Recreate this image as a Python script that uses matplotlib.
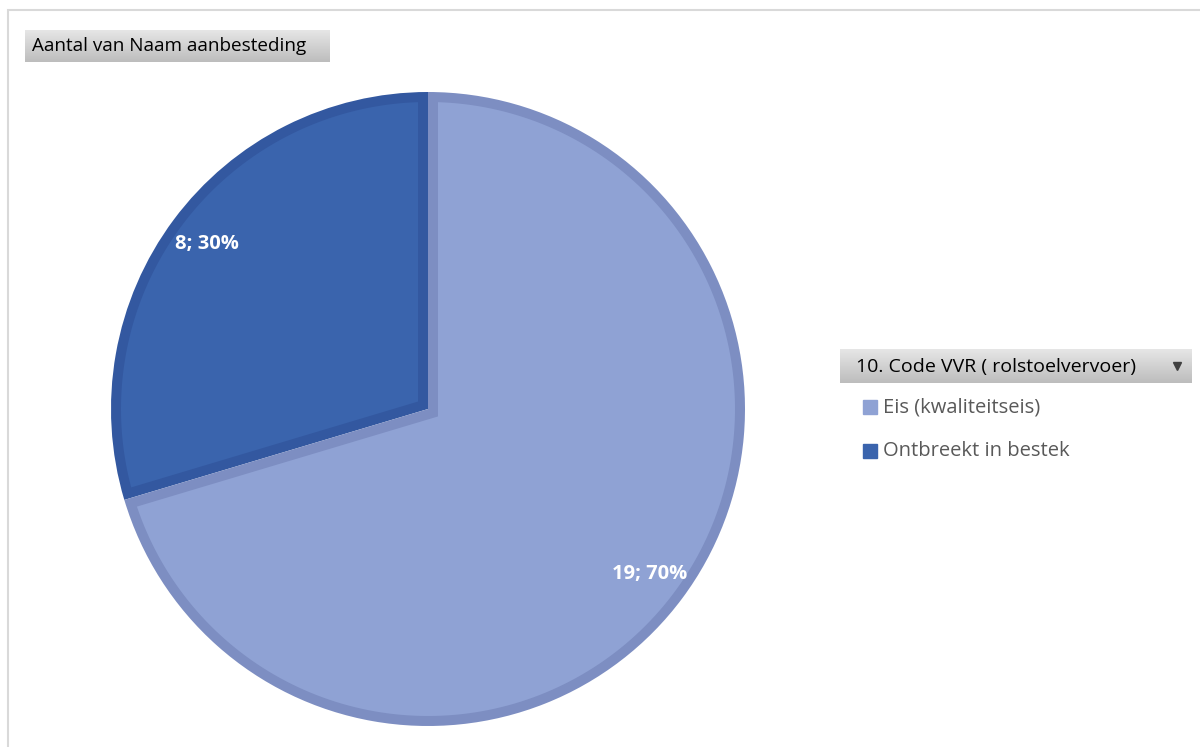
import numpy as np
import matplotlib.pyplot as plt
from matplotlib.patches import Rectangle, Polygon
from matplotlib.colors import LinearSegmentedColormap

categories = ['Ontbreekt in bestek', 'Eis (kwaliteitseis)']
counts = [8, 19]
fill_colors = ['#3A64AD', '#8FA2D4']
edge_colors = ['#3358A0', '#7D8EC2']
legend_order = [1, 0]
title = 'Aantal van Naam aanbesteding'
field = '10. Code VVR ( rolstoelvervoer)'

W, H = 1200, 747
fig = plt.figure(figsize=(W / 100, H / 100), dpi=100)
ax = fig.add_axes([0, 0, 1, 1])
font = 'Open Sans'

# pie in pixel-like coordinates (y measured from the bottom)
cx, cy, r = 428, H - 409, 317
border = 10
wedges, _ = ax.pie(counts, colors=edge_colors, startangle=90, counterclock=True,
                   center=(cx, cy), radius=r, frame=True,
                   wedgeprops=dict(linewidth=0))

# inner fill of each wedge, inset by the border width
for w, fc in zip(wedges, fill_colors):
    a1, a2 = np.deg2rad(w.theta1), np.deg2rad(w.theta2)
    d1 = np.array([np.cos(a1), np.sin(a1)])
    d2 = np.array([np.cos(a2), np.sin(a2)])
    n1 = np.array([-d1[1], d1[0]])
    n2 = np.array([d2[1], -d2[0]])
    corner = np.linalg.solve(np.vstack([n1, n2]), [border, border])
    ri = r - border
    da = np.arcsin(border / ri)
    t = np.linspace(a1 + da, a2 - da, 200)
    arc = np.column_stack([ri * np.cos(t), ri * np.sin(t)])
    pts = np.vstack([corner, arc]) + [cx, cy]
    ax.add_patch(Polygon(pts, closed=True, facecolor=fc, edgecolor='none', zorder=2))

# data labels "n; pct%"
total = sum(counts)
for w, n in zip(wedges, counts):
    mid = np.deg2rad((w.theta1 + w.theta2) / 2)
    lx = cx + 0.87 * r * np.cos(mid)
    ly = cy + 0.87 * r * np.sin(mid)
    ax.text(lx, ly, f'{n}; {round(100 * n / total)}%', color='white',
            fontsize=14.5, fontweight='bold', ha='center', va='center',
            family=font, zorder=3)

# outer chart frame
ax.add_patch(Rectangle((8, -20), W + 20, H - 10 + 20, fill=False,
                       edgecolor='#D9D9D9', linewidth=1.5))

# gray gradient buttons
grad = np.linspace(0, 1, 50).reshape(-1, 1)
gray = LinearSegmentedColormap.from_list('btn', ['#E6E6E6', '#BDBDBD'])
def button(x0, y0, x1, y1):
    ax.imshow(grad, extent=(x0, x1, H - y1, H - y0), cmap=gray,
              aspect='auto', zorder=2, origin='upper')

button(25, 30, 330, 62)
ax.text(32, H - 46, title, fontsize=13.6, va='center', ha='left', family=font,
        color='black', zorder=3)

button(840, 349, 1192, 383)
ax.text(856, H - 367, field, fontsize=14, va='center', ha='left', family=font,
        color='black', zorder=3)
ax.plot([1177], [H - 366], marker='v', color='#404040', markersize=6, zorder=3)

# legend entries
for i, k in enumerate(legend_order):
    y = H - (407 + 44 * i)
    ax.add_patch(Rectangle((863, y - 7), 14, 14, color=fill_colors[k], zorder=3))
    ax.text(883, y, categories[k], fontsize=14.5, va='center', ha='left',
            family=font, color='#595959', zorder=3)

ax.set_xlim(0, W)
ax.set_ylim(0, H)
ax.set_aspect('auto')
ax.axis('off')
fig.savefig('out.png', dpi=100)
